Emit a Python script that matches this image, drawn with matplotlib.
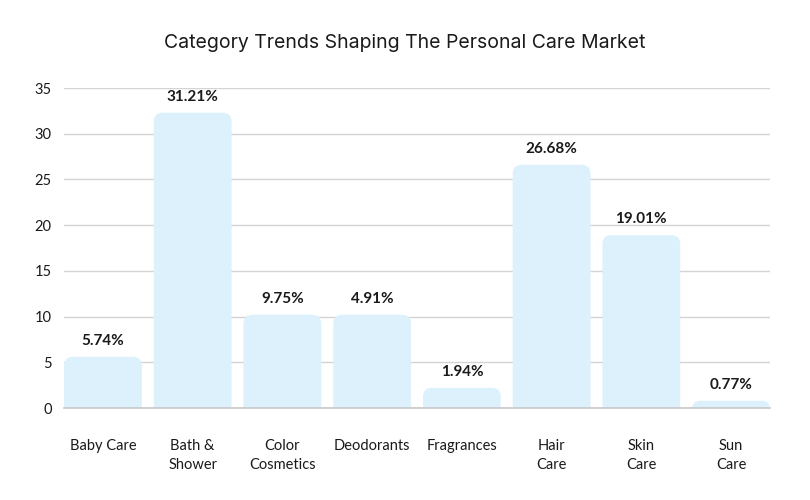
import matplotlib.pyplot as plt
from matplotlib.path import Path
from matplotlib.patches import PathPatch

# dati
categories = ['Baby Care', 'Bath &\nShower', 'Color\nCosmetics', 'Deodorants',
              'Fragrances', 'Hair\nCare', 'Skin\nCare', 'Sun\nCare']
heights = [5.6, 32.3, 10.2, 10.2, 2.2, 26.6, 18.9, 0.8]
value_labels = ['5.74%', '31.21%', '9.75%', '4.91%', '1.94%', '26.68%', '19.01%', '0.77%']
y_ticks = [0, 5, 10, 15, 20, 25, 30, 35]

bar_color = '#dcf1fc'
text_color = '#1a1a1a'
font = ['Lato', 'DejaVu Sans']

fig = plt.figure(figsize=(8.1, 5), dpi=100)
ax = fig.add_axes([64 / 810, 1 - 408 / 500, (770 - 64) / 810, (408 - 88) / 500])

x = list(range(len(categories)))
width = 0.867
bars = ax.bar(x, heights, width=width, color='none')
ax.set_xlim(-width / 2, len(categories) - 1 + width / 2)
ax.set_ylim(0, 35)

# barre con angoli superiori arrotondati (raggio ~9 px)
px_x = 1 / 90
px_y = 35 / 320
for b in bars:
    x0, w, h = b.get_x(), b.get_width(), b.get_height()
    x1 = x0 + w
    rx = 9 * px_x
    ry = min(9 * px_y, h)
    verts = [(x0, 0), (x0, h - ry), (x0, h), (x0 + rx, h),
             (x1 - rx, h), (x1, h), (x1, h - ry), (x1, 0), (x0, 0)]
    codes = [Path.MOVETO, Path.LINETO, Path.CURVE3, Path.CURVE3,
             Path.LINETO, Path.CURVE3, Path.CURVE3, Path.LINETO, Path.CLOSEPOLY]
    ax.add_patch(PathPatch(Path(verts, codes), fc=bar_color, ec='none', zorder=2))

for xi, h, lab in zip(x, heights, value_labels):
    ax.text(xi, h + 1.0, lab, ha='center', va='bottom', fontsize=11,
            fontweight='bold', color=text_color, family=font)

ax.set_yticks(y_ticks)
ax.set_yticklabels([str(v) for v in y_ticks], family=font, fontsize=10.5, color=text_color)
ax.set_xticks(x)
ax.set_xticklabels(categories, family=font, fontsize=10.5, color=text_color, linespacing=1.5)
ax.tick_params(axis='x', length=0, pad=22)
ax.tick_params(axis='y', length=0, pad=9)
for lbl in ax.get_xticklabels():
    lbl.set_verticalalignment('top')

ax.grid(axis='y', color='#d4d4d4', linewidth=1, zorder=0)
ax.set_axisbelow(True)
for s in ['top', 'right', 'left']:
    ax.spines[s].set_visible(False)
ax.spines['bottom'].set_color('#c8c8c8')
ax.spines['bottom'].set_linewidth(1.2)
ax.spines['bottom'].set_zorder(3)

fig.text(0.5, 1 - 43 / 500, 'Category Trends Shaping The Personal Care Market',
         ha='center', va='center', fontsize=14, color=text_color,
         family=['Inter', 'DejaVu Sans'])

fig.savefig('out.png', dpi=100)
